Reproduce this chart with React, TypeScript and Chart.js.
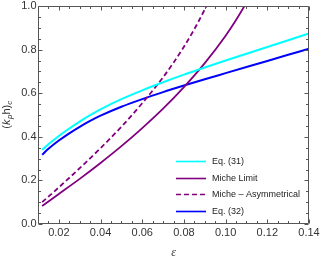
import React, { useEffect, useRef } from 'react';
import { Chart, registerables } from 'chart.js';
Chart.register(...registerables);

// ---- data ----
const epsEq = [0.012, 0.015, 0.02, 0.025, 0.03, 0.035, 0.04, 0.05, 0.06, 0.07, 0.08, 0.09, 0.10, 0.11, 0.12, 0.13, 0.14];
const eq31 = [0.340, 0.366, 0.404, 0.438, 0.470, 0.499, 0.526, 0.573, 0.613, 0.650, 0.685, 0.718, 0.750, 0.781, 0.812, 0.843, 0.874];
const eq32 = [0.318, 0.345, 0.383, 0.416, 0.446, 0.473, 0.497, 0.538, 0.573, 0.605, 0.635, 0.664, 0.692, 0.720, 0.748, 0.776, 0.804];
const epsMiche = [0.012, 0.02, 0.03, 0.04, 0.05, 0.06, 0.07, 0.08, 0.09, 0.10, 0.105, 0.11, 0.115];
const micheLimit = [0.083, 0.138, 0.207, 0.280, 0.357, 0.440, 0.529, 0.628, 0.738, 0.864, 0.936, 1.016, 1.105];
const epsAsym = [0.012, 0.02, 0.03, 0.04, 0.05, 0.06, 0.07, 0.075, 0.08, 0.085, 0.09, 0.095];
const micheAsym = [0.100, 0.168, 0.256, 0.348, 0.446, 0.554, 0.673, 0.740, 0.813, 0.894, 0.985, 1.09];

const seriesLabels = ['Eq. (31)', 'Miche Limit', 'Miche \u2013 Asymmetrical', 'Eq. (32)'];
const xMajorTicks = [0.02, 0.04, 0.06, 0.08, 0.10, 0.12, 0.14];
const yMajorTicks = [0.0, 0.2, 0.4, 0.6, 0.8, 1.0];
const xRange = [0.01, 0.14];
const yRange = [0, 1];

const SANS = '"Liberation Sans", Arial, sans-serif';
const SERIF = '"Liberation Serif", "Times New Roman", serif';
const FRAME = '#555';
const LABEL = '#333';

const frameTicks = {
  id: 'frameTicks',
  afterDatasetsDraw(chart: any) {
    const { ctx, chartArea: ca, scales } = chart;
    const xs = scales.x, ys = scales.y;
    const L = Math.round(ca.left) + 0.5, R = Math.round(ca.right) - 0.5;
    const T = Math.round(ca.top) + 0.5, B = Math.round(ca.bottom) - 0.5;
    ctx.save();
    ctx.strokeStyle = FRAME;
    ctx.lineWidth = 1;
    ctx.beginPath();
    ctx.rect(L, T, R - L, B - T);
    for (let i = 0; i <= 26; i++) {
      const v = xRange[0] + i * 0.005;
      const major = xMajorTicks.some((m) => Math.abs(m - v) < 1e-9);
      const len = major ? 4 : 2.5;
      const px = Math.round(xs.getPixelForValue(v)) + 0.5;
      ctx.moveTo(px, B); ctx.lineTo(px, B - len);
      ctx.moveTo(px, T); ctx.lineTo(px, T + len);
    }
    for (let i = 0; i <= 20; i++) {
      const v = i * 0.05;
      const major = yMajorTicks.some((m) => Math.abs(m - v) < 1e-9);
      const len = major ? 4 : 2.5;
      const py = Math.round(ys.getPixelForValue(v)) + 0.5;
      ctx.moveTo(L, py); ctx.lineTo(L + len, py);
      ctx.moveTo(R, py); ctx.lineTo(R - len, py);
    }
    ctx.stroke();
    ctx.restore();
  },
};

const legendBox = {
  id: 'legendBox',
  afterDraw(chart: any) {
    const { ctx } = chart;
    const x0 = 176, len = 30, tx = 212, y0 = 161, step = 16.7;
    ctx.save();
    chart.data.datasets.forEach((ds: any, i: number) => {
      const y = Math.round(y0 + i * step) + 0.5;
      ctx.beginPath();
      ctx.strokeStyle = ds.borderColor;
      ctx.lineWidth = 1.6;
      ctx.setLineDash(ds.borderDash || []);
      ctx.moveTo(x0, y); ctx.lineTo(x0 + len, y);
      ctx.stroke();
      ctx.setLineDash([]);
      ctx.fillStyle = '#222';
      ctx.font = `9px ${SANS}`;
      ctx.textBaseline = 'middle';
      ctx.textAlign = 'left';
      ctx.fillText(ds.label, tx, y);
    });
    ctx.restore();
  },
};

const yTitle = {
  id: 'yTitle',
  afterDraw(chart: any) {
    const { ctx, chartArea: ca } = chart;
    const cy = (ca.top + ca.bottom) / 2;
    const big = 11, small = 8;
    const parts = [
      { t: '(', f: `${big}px ${SANS}`, dy: 0 },
      { t: 'k', f: `italic ${big}px ${SANS}`, dy: 0 },
      { t: 'p', f: `italic ${small}px ${SANS}`, dy: 2.5 },
      { t: 'h', f: `${big}px ${SANS}`, dy: 0 },
      { t: ')', f: `${big}px ${SANS}`, dy: 0 },
      { t: 'c', f: `italic ${small}px ${SANS}`, dy: 2.5 },
    ];
    ctx.save();
    ctx.translate(9.5, cy);
    ctx.rotate(-Math.PI / 2);
    let total = 0;
    const widths = parts.map((p) => { ctx.font = p.f; const w = ctx.measureText(p.t).width; total += w; return w; });
    let x = -total / 2;
    ctx.fillStyle = LABEL;
    ctx.textBaseline = 'alphabetic';
    ctx.textAlign = 'left';
    parts.forEach((p, i) => {
      ctx.font = p.f;
      ctx.fillText(p.t, x, p.dy);
      x += widths[i] + (i === 1 ? 0.5 : 0);
    });
    ctx.restore();
  },
};

export default function App() {
  const ref = useRef<HTMLCanvasElement>(null);
  useEffect(() => {
    document.body.style.margin = '0';
    const toXY = (xs: number[], ys: number[]) => xs.map((x, i) => ({ x, y: ys[i] }));
    const common = { pointRadius: 0, fill: false, cubicInterpolationMode: 'monotone', clip: 0 };
    const chart = new Chart(ref.current as HTMLCanvasElement, {
      type: 'line',
      data: {
        datasets: [
          { ...common, label: seriesLabels[0], data: toXY(epsEq, eq31), borderColor: '#00ffff', borderWidth: 2 },
          { ...common, label: seriesLabels[1], data: toXY(epsMiche, micheLimit), borderColor: '#800080', borderWidth: 1.8 },
          { ...common, label: seriesLabels[2], data: toXY(epsAsym, micheAsym), borderColor: '#800080', borderWidth: 1.8, borderDash: [5, 3] },
          { ...common, label: seriesLabels[3], data: toXY(epsEq, eq32), borderColor: '#0000ff', borderWidth: 2 },
        ] as any,
      },
      options: {
        animation: false,
        responsive: false,
        maintainAspectRatio: false,
        layout: { padding: { left: 0, top: 6, right: 13, bottom: 0 } },
        plugins: { legend: { display: false }, tooltip: { enabled: false } },
        scales: {
          x: {
            type: 'linear',
            min: xRange[0],
            max: xRange[1],
            grid: { display: false, drawTicks: false },
            border: { display: false },
            afterBuildTicks: (s: any) => { s.ticks = xMajorTicks.map((v) => ({ value: v })); },
            afterFit: (s: any) => { s.height = 34; s.paddingLeft = 0; s.paddingRight = 0; },
            ticks: {
              autoSkip: false, maxRotation: 0, padding: 2, color: LABEL,
              font: { family: SANS, size: 11 },
              callback: (v: any) => Number(v).toFixed(2),
            },
            title: { display: true, text: '\u03b5', color: LABEL, font: { family: SERIF, size: 12, style: 'italic', lineHeight: 0.9 }, padding: 0 },
          },
          y: {
            type: 'linear',
            min: yRange[0],
            max: yRange[1],
            grid: { display: false, drawTicks: false },
            border: { display: false },
            afterBuildTicks: (s: any) => { s.ticks = yMajorTicks.map((v) => ({ value: v })); },
            afterFit: (s: any) => { s.width = 38; s.paddingTop = 0; s.paddingBottom = 0; },
            ticks: {
              autoSkip: false, padding: 1.5, color: LABEL,
              font: { family: SANS, size: 11 },
              callback: (v: any) => Number(v).toFixed(1),
            },
          },
        },
      } as any,
      plugins: [frameTicks, legendBox, yTitle],
    });
    return () => chart.destroy();
  }, []);
  return (
    <div style={{ width: 322, height: 258 }}>
      <canvas ref={ref} width={322} height={258} />
    </div>
  );
}
